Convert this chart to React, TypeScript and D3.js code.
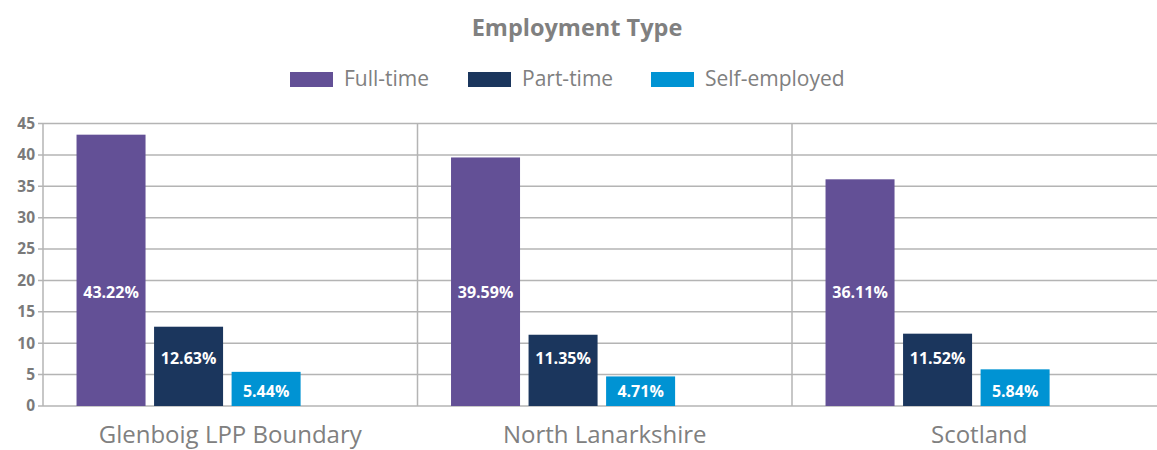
import React from "react";
import * as d3 from "d3";

const categories = ["Glenboig LPP Boundary", "North Lanarkshire", "Scotland"];
const seriesNames = ["Full-time", "Part-time", "Self-employed"];
const fullTime = [43.22, 39.59, 36.11];
const partTime = [12.63, 11.35, 11.52];
const selfEmployed = [5.44, 4.71, 5.84];
const yTicks = [0, 5, 10, 15, 20, 25, 30, 35, 40, 45];
const colors = ["#635096", "#1b365d", "#0093d3"];

const W = 1157;
const H = 450;
const FONT = "'Open Sans', 'Noto Sans', sans-serif";

export default function App() {
  const seriesValues = [fullTime, partTime, selfEmployed];
  const left = 43;
  const bandW = 374.5;
  const x0 = d3
    .scaleBand<string>()
    .domain(categories)
    .range([left, left + bandW * categories.length])
    .padding(0);
  const x1 = d3
    .scaleBand<number>()
    .domain(d3.range(seriesNames.length + 1))
    .range([0, x0.bandwidth()])
    .paddingInner(0.11)
    .paddingOuter(0.47)
    .align(0.46);
  const y = d3.scaleLinear().domain([0, 45]).range([406, 123.5]);

  const legendX = [290, 468, 651];

  return (
    <svg
      width={W}
      height={H}
      style={{ position: "absolute", left: 0, top: 0, background: "#fff" }}
      fontFamily={FONT}
    >
      <text x={577} y={36} textAnchor="middle" fontSize={23.5} fontWeight={700} fill="#808080">
        Employment Type
      </text>
      {seriesNames.map((s, i) => (
        <g key={s} transform={`translate(${legendX[i]},0)`}>
          <rect x={0} y={72} width={43} height={15} fill={colors[i]} />
          <text x={54} y={86} fontSize={21} fill="#808080">
            {s}
          </text>
        </g>
      ))}
      {yTicks.map((t) => (
        <g key={t}>
          <line x1={38} x2={W} y1={y(t)} y2={y(t)} stroke="#b4b4b4" strokeWidth={1.5} />
          <text
            x={35}
            y={y(t)}
            dy="0.35em"
            textAnchor="end"
            fontSize={15.5}
            fontWeight={700}
            fill="#7a7a7a"
          >
            {t}
          </text>
        </g>
      ))}
      {categories.map((c) => (
        <line
          key={c}
          x1={x0(c)!}
          x2={x0(c)!}
          y1={y(45)}
          y2={y(0)}
          stroke="#b4b4b4"
          strokeWidth={1.5}
        />
      ))}
      {categories.map((c, ci) => (
        <g key={c} transform={`translate(${x0(c)},0)`}>
          {seriesValues.map((vals, si) => {
            const v = vals[ci];
            const labelLevel = (d3.min(vals)! + d3.min(vals)! * (si === 1 ? 0.35 : 0)) / 2;
            return (
              <g key={si}>
                <rect
                  x={x1(si)!}
                  y={y(v)}
                  width={x1.bandwidth()}
                  height={y(0) - y(v)}
                  fill={colors[si]}
                />
                <text
                  x={x1(si)! + x1.bandwidth() / 2}
                  y={y(labelLevel)}
                  dy="0.35em"
                  textAnchor="middle"
                  fontSize={16}
                  fontWeight={700}
                  fill="#ffffff"
                >
                  {v.toFixed(2)}%
                </text>
              </g>
            );
          })}
          <text
            x={x0.bandwidth() / 2}
            y={443}
            textAnchor="middle"
            fontSize={24}
            fill="#808080"
          >
            {c}
          </text>
        </g>
      ))}
    </svg>
  );
}
